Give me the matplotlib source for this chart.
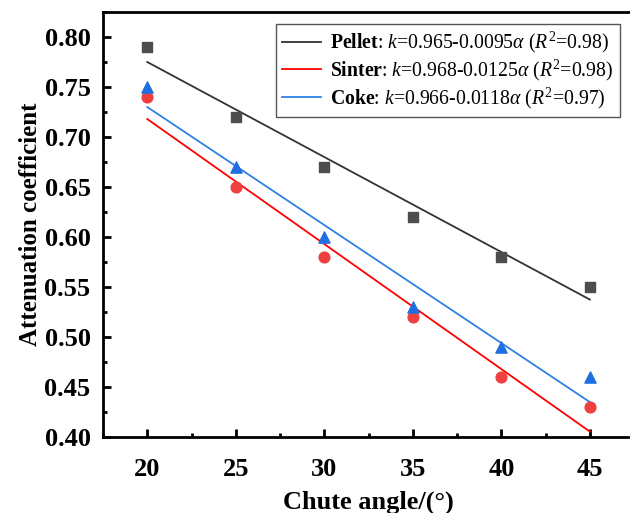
import numpy as np
import matplotlib
matplotlib.use("Agg")
import matplotlib.pyplot as plt
from matplotlib.ticker import MultipleLocator

plt.rcParams["font.family"] = "Liberation Serif"
plt.rcParams["mathtext.fontset"] = "custom"
plt.rcParams["mathtext.rm"] = "Liberation Serif"
plt.rcParams["mathtext.it"] = "Liberation Serif:italic"
plt.rcParams["mathtext.bf"] = "Liberation Serif:bold"

# data
angle = [20, 25, 30, 35, 40, 45]
pellet = [0.79, 0.72, 0.67, 0.62, 0.58, 0.55]
sinter = [0.74, 0.65, 0.58, 0.52, 0.46, 0.43]
coke = [0.75, 0.67, 0.60, 0.53, 0.49, 0.46]

# fit coefficients (intercept, slope) from legend
fit_pellet = (0.965, -0.0095)
fit_sinter = (0.968, -0.0125)
fit_coke = (0.966, -0.0118)

labels = [
    r"$\mathbf{Pellet}$: $k$=0.965-0.0095$\alpha$ ($R^2$=0.98)",
    r"$\mathbf{Sinter}$: $k$=0.968-0.0125$\alpha$ ($R^2$=0.98)",
    r"$\mathbf{Coke}$: $k$=0.966-0.0118$\alpha$ ($R^2$=0.97)",
]

fig = plt.figure(figsize=(6.30, 5.13), dpi=100)
ax = fig.add_axes([0.1635, 0.148, 0.843, 0.8286])

x = np.array(angle)
ax.scatter(angle, pellet, marker="s", s=55, color="#4d4d4d", zorder=3)
ax.scatter(angle, sinter, marker="o", s=60, color="#ef4040", zorder=3)
ax.scatter(angle, coke, marker="^", s=65, color="#1f6fe0", zorder=3)

ax.plot(x, fit_pellet[0] + fit_pellet[1] * x, color="#333333", lw=1.3, label=labels[0])
ax.plot(x, fit_sinter[0] + fit_sinter[1] * x, color="#ff0000", lw=1.3, label=labels[1])
ax.plot(x, fit_coke[0] + fit_coke[1] * x, color="#2f80e8", lw=1.3, label=labels[2])

ax.set_xlim(17.5, 47.5)
ax.set_ylim(0.40, 0.825)
ax.xaxis.set_major_locator(MultipleLocator(5))
ax.xaxis.set_minor_locator(MultipleLocator(2.5))
ax.yaxis.set_major_locator(MultipleLocator(0.05))
ax.yaxis.set_minor_locator(MultipleLocator(0.025))
ax.yaxis.set_major_formatter(matplotlib.ticker.FormatStrFormatter("%.2f"))

ax.tick_params(which="major", direction="in", length=6, width=2, labelsize=19)
ax.tick_params(axis="x", which="major", pad=15)
ax.tick_params(axis="y", which="major", pad=9)
ax.tick_params(which="minor", direction="in", length=3, width=2)
for lab in ax.get_xticklabels() + ax.get_yticklabels():
    lab.set_fontweight("bold")
for sp in ax.spines.values():
    sp.set_linewidth(2)

ax.set_xlabel("Chute angle/(°)", fontsize=19, fontweight="bold", labelpad=7)
ax.set_ylabel("Attenuation coefficient", fontsize=18, fontweight="bold", labelpad=2)

leg = ax.legend(loc="upper right", bbox_to_anchor=(0.984, 0.985), fontsize=14.2,
                fancybox=False, edgecolor="#555555", framealpha=1,
                handlelength=2.0, handletextpad=0.45, borderpad=0.3,
                labelspacing=0.12, borderaxespad=0.3)
leg.get_frame().set_linewidth(1.0)

fig.savefig("out.png", dpi=100)
